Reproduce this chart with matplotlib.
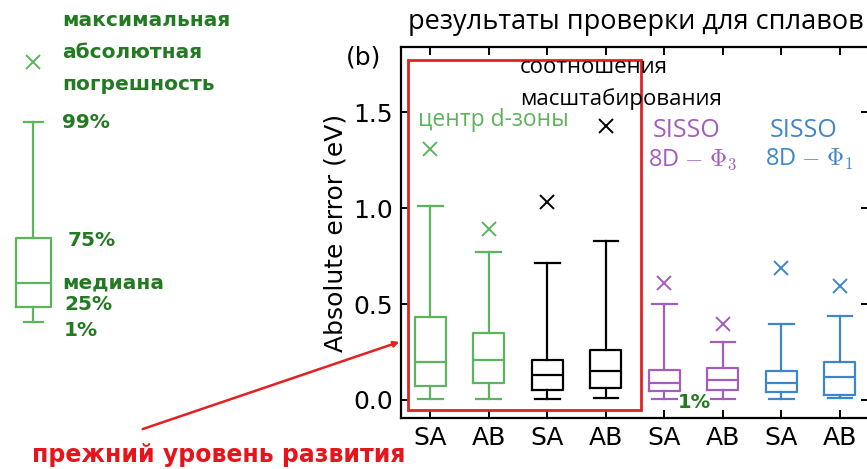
import matplotlib.pyplot as plt
from matplotlib.patches import Rectangle, FancyArrowPatch

plt.rcParams['mathtext.fontset'] = 'cm'

# Error distributions per model and test set
labels = ['SA', 'AB', 'SA', 'AB', 'SA', 'AB', 'SA', 'AB']
p01 = [0.005, 0.005, 0.005, 0.01, 0.005, 0.005, 0.005, 0.01]
q25 = [0.075, 0.09, 0.05, 0.06, 0.045, 0.05, 0.04, 0.025]
median = [0.20, 0.21, 0.13, 0.15, 0.09, 0.105, 0.088, 0.12]
q75 = [0.43, 0.35, 0.21, 0.26, 0.155, 0.165, 0.15, 0.20]
p99 = [1.01, 0.77, 0.715, 0.83, 0.50, 0.30, 0.395, 0.44]
max_err = [1.31, 0.89, 1.03, 1.43, 0.61, 0.395, 0.69, 0.595]

GREEN = '#5cb55c'
PURPLE = '#a55cbf'
BLUE = '#3f86c8'
DARK_GREEN = '#237a23'
RED = '#e8141c'
colors = [GREEN, GREEN, 'black', 'black', PURPLE, PURPLE, BLUE, BLUE]

fig = plt.figure(figsize=(8.67, 4.69), dpi=100)
ax = fig.add_axes([0.4625, 0.1087, 0.540, 0.7911])

stats = []
for i in range(len(labels)):
    stats.append({'whislo': p01[i], 'q1': q25[i], 'med': median[i],
                  'q3': q75[i], 'whishi': p99[i], 'fliers': [max_err[i]]})

positions = list(range(1, len(labels) + 1))
for pos, st, c in zip(positions, stats, colors):
    ax.bxp([st], positions=[pos], widths=0.53, capwidths=0.42,
           boxprops=dict(color=c, linewidth=1.6),
           medianprops=dict(color=c, linewidth=1.6),
           whiskerprops=dict(color=c, linewidth=1.6),
           capprops=dict(color=c, linewidth=1.6),
           flierprops=dict(marker='x', markeredgecolor=c, markersize=10,
                           markeredgewidth=1.4))

ax.set_xlim(0.5, 8.5)
ax.set_ylim(-0.094, 1.84)
ax.set_xticks(positions)
ax.set_xticklabels(labels)
ax.set_yticks([0.0, 0.5, 1.0, 1.5])
ax.set_yticklabels(['0.0', '0.5', '1.0', '1.5'])
ax.tick_params(direction='in', length=6, width=1.4, labelsize=18,
               top=True, right=True, pad=6)
for s in ax.spines.values():
    s.set_linewidth(1.6)
ax.set_ylabel('Absolute error (eV)', fontsize=18, labelpad=4)

# annotations inside the axes
fig.text(0.482, 0.744, 'центр d-зоны', color=GREEN, fontsize=16.5,
         family='Open Sans', va='center')
fig.text(0.600, 0.857, 'соотношения', color='black', fontsize=16,
         family='Open Sans', va='center')
fig.text(0.600, 0.789, 'масштабирования', color='black', fontsize=16,
         family='Open Sans', va='center')
fig.text(0.792, 0.721, 'SISSO', color=PURPLE, fontsize=18,
         family='Open Sans', va='center', ha='center')
fig.text(0.799, 0.659, r'8D $-$ $\Phi_3$', color=PURPLE, fontsize=17,
         family='Open Sans', va='center', ha='center')
fig.text(0.927, 0.721, 'SISSO', color=BLUE, fontsize=18,
         family='Open Sans', va='center', ha='center')
fig.text(0.933, 0.659, r'8D $-$ $\Phi_1$', color=BLUE, fontsize=17,
         family='Open Sans', va='center', ha='center')
fig.text(0.801, 0.141, '1%', color=DARK_GREEN, fontsize=14,
         fontweight='bold', va='center', ha='center')

fig.text(0.733, 0.953, 'результаты проверки для сплавов', fontsize=19.5,
         family='Open Sans', ha='center', va='center')
fig.text(0.419, 0.878, '(b)', fontsize=18, ha='center', va='center')

# highlighted region and pointer
fig.add_artist(Rectangle((0.4706, 0.1258), 0.2687, 0.7462,
                         transform=fig.transFigure, fill=False,
                         edgecolor='#e42020', linewidth=2))
fig.add_artist(FancyArrowPatch((0.1615, 0.0832), (0.4637, 0.2729),
                               transform=fig.transFigure,
                               arrowstyle='-|>', mutation_scale=8,
                               color='#e42020', linewidth=1.8))
fig.text(0.252, 0.030, 'прежний уровень развития', color=RED,
         fontsize=17, fontweight='bold', ha='center', va='center')

# key explaining the box elements
key_ax = fig.add_axes([0, 0, 65 / 867, 1])
key_ax.set_xlim(0, 65)
key_ax.set_ylim(469, 0)
key_ax.axis('off')
key_stats = {'whislo': 322, 'q1': 307, 'med': 283, 'q3': 238,
             'whishi': 122, 'fliers': [62]}
key_ax.bxp([key_stats], positions=[33], widths=35, capwidths=19,
           boxprops=dict(color=GREEN, linewidth=1.6),
           medianprops=dict(color=GREEN, linewidth=1.6),
           whiskerprops=dict(color=GREEN, linewidth=1.6),
           capprops=dict(color=GREEN, linewidth=1.6),
           flierprops=dict(marker='x', markeredgecolor=GREEN, markersize=10,
                           markeredgewidth=1.4))
key_ax.set_xticks([])
key_labels = [('максимальная', 62, 20), ('абсолютная', 62, 53),
              ('погрешность', 62, 85), ('99%', 62, 123),
              ('75%', 68, 240), ('медиана', 62, 283),
              ('25%', 64, 305), ('1%', 64, 330)]
for txt, x, y in key_labels:
    key_ax.text(x, y, txt, color=DARK_GREEN, fontsize=14.5,
                fontweight='bold', va='center', ha='left', clip_on=False)

fig.savefig('out.png', dpi=100)
